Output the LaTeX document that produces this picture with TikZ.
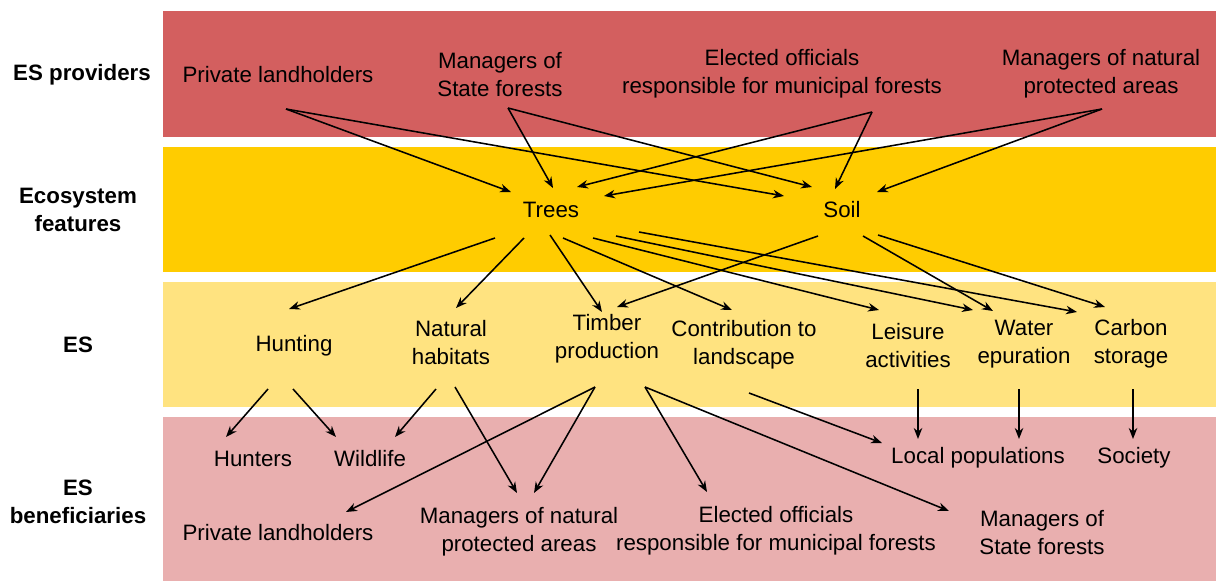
\documentclass[tikz,border=0pt]{standalone}
\usepackage{fontspec}
\setmainfont{Liberation Sans}
\usetikzlibrary{arrows.meta,calc}
\definecolor{provred}{HTML}{D35F5F}
\definecolor{featgold}{HTML}{FFCC00}
\definecolor{eslight}{HTML}{FFE380}
\definecolor{benpink}{HTML}{E9AFAF}
\begin{document}
\begin{tikzpicture}[x=1pt,y=-1pt,
  lbl/.style={inner sep=0pt,align=center,font=\fontsize{22.3}{28}\selectfont},
  side/.style={inner sep=0pt,align=center,font=\fontsize{22.3}{28}\selectfont\bfseries},
  arr/.style={line width=1.55pt,-{Stealth[length=11pt,width=8.5pt,inset=3.5pt]}}]
\useasboundingbox (0,0) rectangle (1216,581);
% bands
\fill[provred] (163,11) rectangle (1216,137);
\fill[featgold] (163,147) rectangle (1216,272);
\fill[eslight] (163,282) rectangle (1216,407);
\fill[benpink] (163,417) rectangle (1216,581);
% side labels
\node[side] (sProv) at (82,75) {ES providers};
\node[side] (sFeat) at (78,210) {Ecosystem\\features};
\node[side] (sES) at (78,345) {ES};
\node[side] (sBen) at (78,502) {ES\\beneficiaries};
% providers
\node[lbl] (pl) at (278,75) {Private landholders};
\node[lbl] (sf) at (500,75) {Managers of\\State forests};
\node[lbl] (eo) at (782,74) {Elected officials\\responsible for municipal forests};
\node[lbl] (mn) at (1101,74) {Managers of natural\\protected areas};
% features
\node[lbl] (trees) at (551,210) {Trees};
\node[lbl] (soil) at (842,210) {Soil};
% ES
\node[lbl] (hunt) at (294,346) {Hunting};
\node[lbl] (nat) at (451,343) {Natural\\habitats};
\node[lbl] (timb) at (607,339) {Timber\\production};
\node[lbl] (contrib) at (744,345) {Contribution to\\landscape};
\node[lbl] (leis) at (908,346) {Leisure\\activities};
\node[lbl] (water) at (1024,344) {Water\\epuration};
\node[lbl] (carbon) at (1131,344) {Carbon\\storage};
% beneficiaries
\node[lbl] (hunters) at (253,459) {Hunters};
\node[lbl] (wildlife) at (370,459) {Wildlife};
\node[lbl] (localpop) at (978,458) {Local populations};
\node[lbl] (society) at (1134,458) {Society};
\node[lbl] (pl2) at (278,533) {Private landholders};
\node[lbl] (mn2) at (519,532) {Managers of natural\\protected areas};
\node[lbl] (eo2) at (776,531) {Elected officials\\responsible for municipal forests};
\node[lbl] (sf2) at (1042,533) {Managers of\\State forests};
% providers -> features
\draw[arr] ($(pl)+(8,34)$) -- ($(trees)+(-40,-18)$);
\draw[arr] ($(pl)+(8,34)$) -- ($(soil)+(-58,-14)$);
\draw[arr] ($(sf)+(8,33)$) -- ($(trees)+(2,-22)$);
\draw[arr] ($(sf)+(8,33)$) -- ($(soil)+(-30,-23)$);
\draw[arr] ($(eo)+(90,38)$) -- ($(trees)+(26,-23)$);
\draw[arr] ($(eo)+(90,38)$) -- ($(soil)+(-7,-21)$);
\draw[arr] ($(mn)+(1,35)$) -- ($(trees)+(53,-14)$);
\draw[arr] ($(mn)+(1,35)$) -- ($(soil)+(35,-18)$);
% features -> ES
\draw[arr] ($(trees)+(-56,28)$) -- ($(hunt)+(-5,-37)$);
\draw[arr] ($(trees)+(-27,28)$) -- ($(nat)+(5,-35)$);
\draw[arr] ($(trees)+(-1,25)$) -- ($(timb)+(-5,-27)$);
\draw[arr] ($(trees)+(12,28)$) -- ($(contrib)+(-12,-35)$);
\draw[arr] ($(trees)+(42,28)$) -- ($(leis)+(-29,-36)$);
\draw[arr] ($(trees)+(65,26)$) -- ($(water)+(-51,-34)$);
\draw[arr] ($(trees)+(88,22)$) -- ($(carbon)+(-54,-32)$);
\draw[arr] ($(soil)+(-24,26)$) -- ($(timb)+(10,-32)$);
\draw[arr] ($(soil)+(21,26)$) -- ($(water)+(-31,-33)$);
\draw[arr] ($(soil)+(36,25)$) -- ($(carbon)+(-26,-37)$);
% ES -> beneficiaries
\draw[arr] ($(hunt)+(-26,43)$) -- ($(hunters)+(-27,-22)$);
\draw[arr] ($(hunt)+(-1,43)$) -- ($(wildlife)+(-34,-22)$);
\draw[arr] ($(nat)+(-15,46)$) -- ($(wildlife)+(25,-22)$);
\draw[arr] ($(nat)+(4,44)$) -- ($(mn2)+(-2,-39)$);
\draw[arr] ($(timb)+(-12,48)$) -- ($(mn2)+(15,-39)$);
\draw[arr] ($(timb)+(-12,48)$) -- ($(pl2)+(68,-21)$);
\draw[arr] ($(timb)+(38,48)$) -- ($(eo2)+(-69,-39)$);
\draw[arr] ($(timb)+(38,48)$) -- ($(sf2)+(-93,-22)$);
\draw[arr] ($(contrib)+(5,48)$) -- ($(localpop)+(-96,-15)$);
\draw[arr] ($(leis)+(10,43)$) -- ($(localpop)+(-60,-19)$);
\draw[arr] ($(water)+(-5,45)$) -- ($(localpop)+(41,-19)$);
\draw[arr] ($(carbon)+(2,45)$) -- ($(society)+(-1,-19)$);
\end{tikzpicture}
\end{document}
